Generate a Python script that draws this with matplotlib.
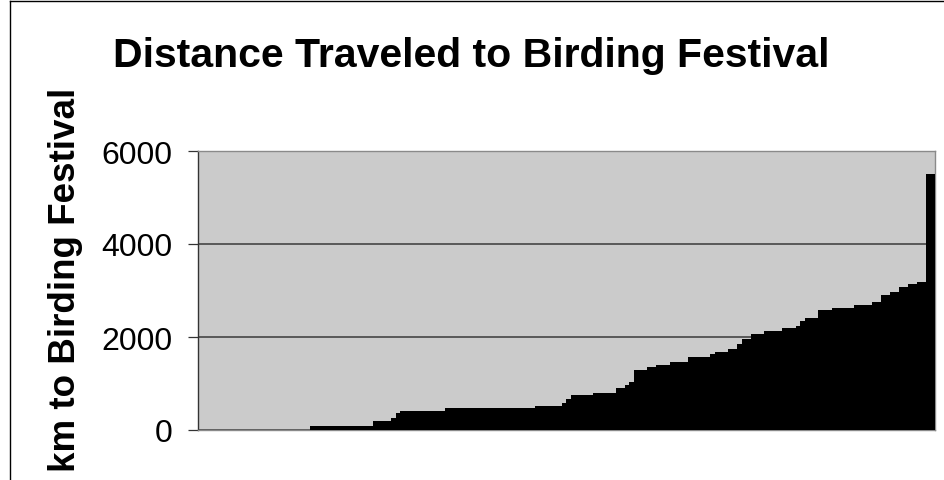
import numpy as np
import matplotlib
matplotlib.use("Agg")
import matplotlib.pyplot as plt
from matplotlib.lines import Line2D

# Distances (km), sorted ascending, with number of respondents at each level
distance_levels = [0, 80, 190, 260, 365, 415, 470, 520, 580, 670, 745, 795, 910, 968, 1025,
                   1297, 1347, 1405, 1462, 1562, 1634, 1684, 1742, 1850, 1957, 2071, 2130,
                   2187, 2236, 2344, 2400, 2580, 2630, 2687, 2745, 2902, 2974, 3081, 3132,
                   3182, 5512]
respondent_counts = [25, 14, 4, 1, 1, 10, 20, 6, 1, 1, 5, 5, 2, 1, 1,
                     3, 2, 3, 4, 5, 1, 3, 2, 1, 2, 3, 4,
                     3, 1, 1, 3, 3, 5, 4, 2, 2, 2, 2, 2,
                     2, 2]
y_ticks = [0, 2000, 4000, 6000]
title_text = "Distance Traveled to Birding Festival"
ylabel_text = "km to Birding Festival"

distances = np.repeat(distance_levels, respondent_counts)
positions = np.arange(len(distances))

W, H = 945, 481
fig = plt.figure(figsize=(W / 100, H / 100), dpi=100)
fig.patch.set_facecolor("white")

ax = fig.add_axes([198 / W, (H - 431) / H, 737 / W, 279 / H])
ax.set_facecolor("#CBCBCB")
ax.bar(positions, distances, width=1.0, color="black", linewidth=0, zorder=3)
ax.set_xlim(-0.5, len(distances) - 0.5)
ax.set_ylim(0, 6000)
ax.set_yticks(y_ticks)
ax.set_yticklabels([str(v) for v in y_ticks], fontsize=23, family="Liberation Sans")
ax.set_xticks([])
ax.yaxis.grid(True, color="#3a3a3a", linewidth=1.1, zorder=2)
ax.tick_params(axis="y", direction="out", length=7.5, width=0.9, color="#333333", pad=11)
for side in ["top", "right", "bottom"]:
    ax.spines[side].set_color("#8a8a8a")
    ax.spines[side].set_linewidth(1.0)
ax.spines["left"].set_color("#333333")
ax.spines["left"].set_linewidth(1.0)

fig.text(471 / W, 1 - 67 / H, title_text, ha="center", va="baseline",
         fontsize=29.5, fontweight="bold", family="Liberation Sans")
fig.text(66 / W, 1 - 280 / H, ylabel_text, ha="center", va="center", rotation=90,
         fontsize=26.5, fontweight="bold", family="Liberation Sans")

# outer chart-area border (partially visible)
fig.add_artist(Line2D([10 / W, 1.0], [1 - 1.5 / H, 1 - 1.5 / H], color="black", linewidth=1.0,
                      transform=fig.transFigure))
fig.add_artist(Line2D([10 / W, 10 / W], [0, 1 - 1.5 / H], color="black", linewidth=1.0,
                      transform=fig.transFigure))

fig.savefig("out.png", dpi=100)
